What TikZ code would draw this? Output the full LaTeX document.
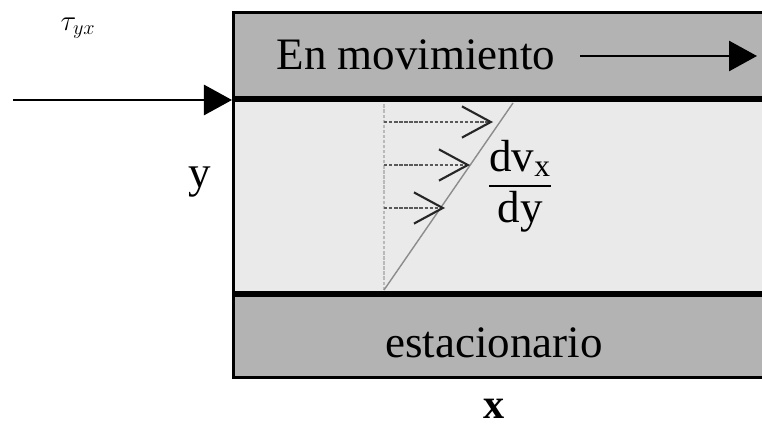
\documentclass[tikz,border=0pt]{standalone}
\usepackage{amsmath}
\usepackage{fontspec}
\setmainfont{Liberation Serif}
\usetikzlibrary{arrows.meta,positioning}
\definecolor{plategray}{RGB}{179,179,179}
\definecolor{fluidgray}{RGB}{234,234,234}
\tikzset{
  wallln/.style={line width=2.1pt},
  plateln/.style={line width=4.3pt},
  forceln/.style={-{Triangle[length=0.7cm,width=0.75cm]}, line width=2pt},
  velln/.style={-{Straight Barb[length=0.72cm,width=0.78cm,line width=1.5pt,color=black!85]}, line width=1.8pt, dash pattern=on 2.4pt off 1.2pt, black!65},
  profln/.style={line width=1.8pt, dash pattern=on 2.4pt off 1.2pt, gray!55},
  lbl/.style={font=\fontsize{32}{38}\selectfont, inner sep=0pt},
}

\begin{document}
\begin{tikzpicture}[x=0.025cm,y=-0.025cm]
    \useasboundingbox (0,0) rectangle (762,425);
    \clip (0,0) rectangle (762,425);

    % plates and fluid layer
    \fill[plategray] (233.5,12.5) rectangle (775,99);
    \fill[fluidgray] (233.5,99) rectangle (775,294);
    \fill[plategray] (233.5,294) rectangle (775,377.5);
    \draw[wallln] (775,12.5) -- (233.5,12.5) -- (233.5,377.5) -- (775,377.5);
    \draw[plateln] (233.5,99) -- (775,99);
    \draw[plateln] (233.5,294) -- (775,294);

    % labels
    \node[lbl] (moving) at (416,55) {En movimiento};
    \node[lbl] (still) at (494,343) {estacionario};
    \node[lbl] (ylbl) at (200,182) {y};
    \node[lbl, font=\fontsize{30}{36}\selectfont\bfseries] (xlbl) at (494,409) {x};
    \node[inner sep=0pt, font=\fontsize{21}{24}\selectfont] (tau) at (78,28) {$\tau_{yx}$};
    \node[lbl] (grad) at (520,186) {$\dfrac{\text{dv}_\text{x}}{\text{dy}}$};

    % moving plate and shear force
    \coordinate (mvs) at (580,56);
    \coordinate (mve) at (757,56);
    \draw[forceln] (mvs) -- (mve);
    \coordinate (tin) at (13,100);
    \coordinate (corner) at (232,100);
    \draw[forceln] (tin) -- (corner);

    % velocity profile
    \coordinate (base) at (384,290);
    \coordinate (top) at (384,103);
    \coordinate (edge) at (513,103);
    \draw[profln] (base) -- (top);
    \draw[black!45, line width=1pt] (base) -- (edge);
    \foreach \i/\yy/\xx in {1/122/493, 2/165/470, 3/208/445} {
      \coordinate (s\i) at (384,\yy);
      \coordinate (e\i) at (\xx,\yy);
      \draw[velln] (s\i) -- (e\i);
    }
  \end{tikzpicture}
\end{document}
